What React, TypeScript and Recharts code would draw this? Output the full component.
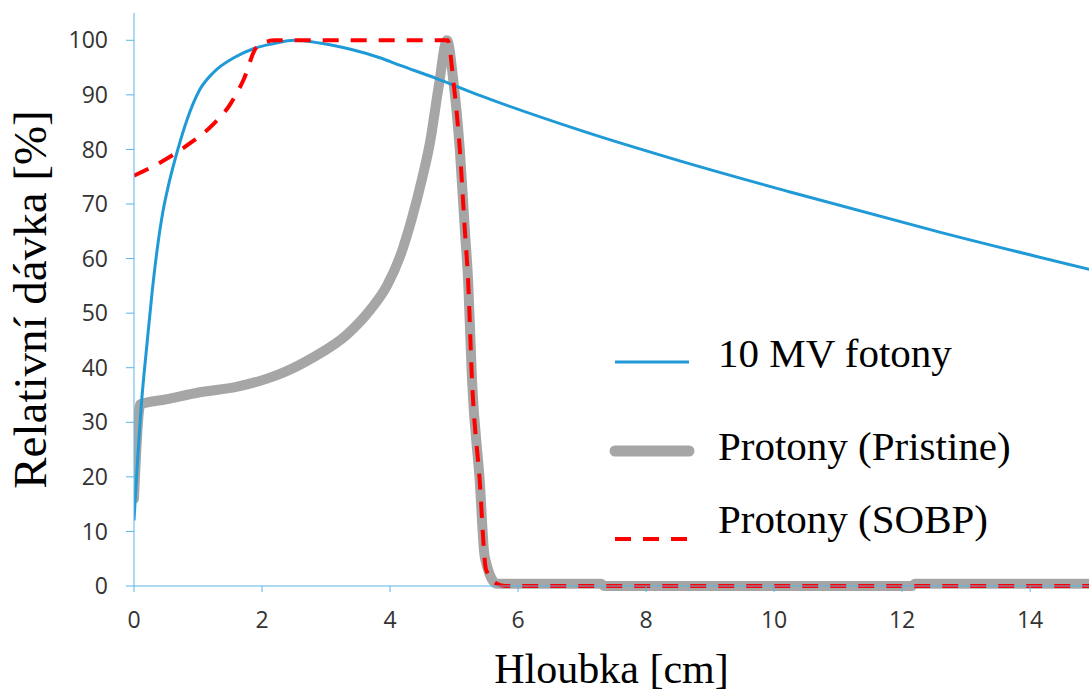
import React from 'react';
import { LineChart, Line, XAxis, YAxis } from 'recharts';

// hloubka [cm] a relativní dávka [%] pro každou křivku
const photonDepth = [0, 0.12, 0.2, 0.28, 0.36, 0.45, 0.55, 0.68, 0.83, 1.02, 1.25, 1.56, 1.875, 2.19, 2.5, 2.9, 3.4, 3.84, 4.16, 4.7, 5.4, 7.0, 8.5, 10.25, 12.6, 15];
const photonDose = [12, 34, 44, 53.5, 61.5, 68.5, 74, 79.8, 85.5, 90.8, 94.2, 96.8, 98.5, 99.4, 100, 99.5, 98.3, 96.8, 95.4, 93.1, 89.9, 83.4, 78.0, 72.2, 64.8, 57.8];

const pristineDepth = [0, 0.1, 0.5, 1.03, 1.6, 2.08, 2.33, 2.8, 3.32, 3.69, 3.95, 4.16, 4.34, 4.5, 4.62, 4.76, 4.89, 4.99, 5.09, 5.17, 5.22, 5.28, 5.4, 5.48, 5.67, 7.3, 7.35, 12.15, 12.2, 15];
const pristineDose = [16, 33.3, 34.2, 35.5, 36.5, 38, 39.1, 41.9, 46, 50.6, 55, 60.5, 67.3, 74.6, 81, 91.5, 100, 92.5, 80, 65, 56, 37.9, 19.5, 5.3, 0.4, 0.4, 0, 0, 0.4, 0.4];

const sobpDepth = [0, 0.47, 0.86, 1.22, 1.51, 1.72, 1.9, 2.0, 2.2, 3.5, 4.9, 4.99, 5.09, 5.17, 5.22, 5.28, 5.4, 5.5, 5.67, 5.8, 15];
const sobpDose = [75.2, 78, 81, 84.4, 88.4, 93, 98.5, 99.4, 100, 100, 100, 92.5, 80, 65, 56, 37.9, 19.5, 3, 0.4, 0, 0];

const xTicks = [0, 2, 4, 6, 8, 10, 12, 14];
const yTicks = [0, 10, 20, 30, 40, 50, 60, 70, 80, 90, 100];

const seriesNames = ['10 MV fotony', 'Protony (Pristine)', 'Protony (SOBP)'];

const photonData = photonDepth.map((x, i) => ({ x, y: photonDose[i] }));
const pristineData = pristineDepth.map((x, i) => ({ x, y: pristineDose[i] }));
const sobpData = sobpDepth.map((x, i) => ({ x, y: sobpDose[i] }));

const AXIS = '#5bb5e5';
const BLUE = '#1f9ad6';
const GRAY = '#a6a6a6';
const RED = '#ff0000';
const SERIF = '"Liberation Serif", "Times New Roman", serif';
const SANS = '"Open Sans", sans-serif';

// legenda vpravo uprostřed grafu
const LegendBox = () => (
  <svg width={440} height={250} style={{ position: 'absolute', left: 605, top: 325 }}>
    <line x1={10} y1={37} x2={84} y2={37} stroke={BLUE} strokeWidth={3} />
    <text x={113} y={42} fontFamily={SERIF} fontSize={41} fill="#000">{seriesNames[0]}</text>
    <line x1={10} y1={126} x2={84} y2={126} stroke={GRAY} strokeWidth={11} strokeLinecap="round" />
    <text x={113} y={135} fontFamily={SERIF} fontSize={41} fill="#000">{seriesNames[1]}</text>
    <line x1={10} y1={214} x2={84} y2={214} stroke={RED} strokeWidth={4} strokeDasharray="16 12" />
    <text x={113} y={208} fontFamily={SERIF} fontSize={41} fill="#000">{seriesNames[2]}</text>
  </svg>
);

export default function App() {
  return (
    <div style={{ position: 'absolute', left: 0, top: 0, width: 1089, height: 693, background: '#fff', overflow: 'hidden' }}>
      <LineChart width={1089} height={693} margin={{ top: 13, right: 0, bottom: 0, left: 0 }}>
        <XAxis
          dataKey="x"
          type="number"
          domain={[0, 14.92]}
          allowDataOverflow
          ticks={xTicks}
          height={107}
          tickSize={6}
          tickMargin={20}
          stroke={AXIS}
          tick={{ fill: '#333', fontSize: 23, fontFamily: SANS }}
          label={{
            value: 'Hloubka [cm]',
            position: 'insideBottom',
            offset: 10,
            style: { fontFamily: SERIF, fontSize: 42, fill: '#000', textAnchor: 'middle' },
          }}
        />
        <YAxis
          type="number"
          domain={[0, 105]}
          ticks={yTicks}
          width={134}
          tickSize={8}
          tickMargin={18}
          stroke={AXIS}
          tick={{ fill: '#333', fontSize: 23, fontFamily: SANS }}
          label={{
            value: 'Relativní dávka [%]',
            angle: -90,
            position: 'insideLeft',
            offset: 29,
            style: { fontFamily: SERIF, fontSize: 47, fill: '#000', textAnchor: 'middle' },
          }}
        />
        <Line
          data={pristineData}
          dataKey="y"
          name={seriesNames[1]}
          type="monotone"
          stroke={GRAY}
          strokeWidth={10}
          strokeLinecap="round"
          strokeLinejoin="round"
          dot={false}
          isAnimationActive={false}
        />
        <Line
          data={photonData}
          dataKey="y"
          name={seriesNames[0]}
          type="monotone"
          stroke={BLUE}
          strokeWidth={3}
          dot={false}
          isAnimationActive={false}
        />
        <Line
          data={sobpData}
          dataKey="y"
          name={seriesNames[2]}
          type="monotone"
          stroke={RED}
          strokeWidth={4}
          strokeDasharray="16 12"
          dot={false}
          isAnimationActive={false}
        />
      </LineChart>
      <LegendBox />
    </div>
  );
}
